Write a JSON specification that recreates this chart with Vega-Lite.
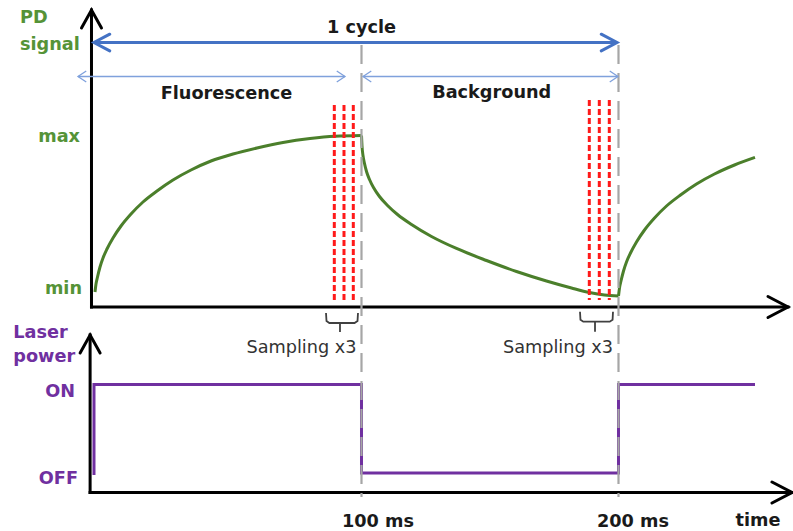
{
  "$schema": "https://vega.github.io/schema/vega-lite/v6.json",
  "width": 793,
  "height": 531,
  "padding": 0,
  "autosize": {"type": "none"},
  "background": "white",
  "config": {"view": {"stroke": null}},
  "datasets": {
    "axes": [
      {"t": -5.06, "v": -0.0958, "t2": -5.06, "v2": 1.802},
      {"t": -5.06, "v": -0.0958, "t2": 265.95, "v2": -0.0958},
      {"t": -5.6, "v": -1.2812, "t2": -5.6, "v2": -0.2748},
      {"t": -5.6, "v": -1.2812, "t2": 267.51, "v2": -1.2812}
    ],
    "arrowRight": [{"t": 265.95, "v": -0.0958}, {"t": 267.51, "v": -1.2812}],
    "arrowUp": [{"t": -5.06, "v": 1.802}, {"t": -5.6, "v": -0.2748}],
    "curve": [
      {"seg": 1, "i": 0, "t": -3.70, "v": 0},
      {"seg": 1, "i": 1, "t": -3.31, "v": 0.0511},
      {"seg": 1, "i": 2, "t": -2.72, "v": 0.0958},
      {"seg": 1, "i": 3, "t": -1.75, "v": 0.1597},
      {"seg": 1, "i": 4, "t": -0.58, "v": 0.2173},
      {"seg": 1, "i": 5, "t": 0.97, "v": 0.2748},
      {"seg": 1, "i": 6, "t": 3.31, "v": 0.3450},
      {"seg": 1, "i": 7, "t": 6.42, "v": 0.4217},
      {"seg": 1, "i": 8, "t": 10.31, "v": 0.4984},
      {"seg": 1, "i": 9, "t": 14.98, "v": 0.5751},
      {"seg": 1, "i": 10, "t": 20.43, "v": 0.6454},
      {"seg": 1, "i": 11, "t": 26.65, "v": 0.7157},
      {"seg": 1, "i": 12, "t": 33.66, "v": 0.7796},
      {"seg": 1, "i": 13, "t": 41.44, "v": 0.8371},
      {"seg": 1, "i": 14, "t": 50.00, "v": 0.8818},
      {"seg": 1, "i": 15, "t": 59.34, "v": 0.9201},
      {"seg": 1, "i": 16, "t": 69.46, "v": 0.9553},
      {"seg": 1, "i": 17, "t": 79.96, "v": 0.9808},
      {"seg": 1, "i": 18, "t": 89.69, "v": 0.9955},
      {"seg": 1, "i": 19, "t": 100, "v": 1.0},
      {"seg": 2, "i": 0, "t": 100, "v": 1.0},
      {"seg": 2, "i": 1, "t": 100.19, "v": 0.9361},
      {"seg": 2, "i": 2, "t": 100.58, "v": 0.8722},
      {"seg": 2, "i": 3, "t": 101.17, "v": 0.8211},
      {"seg": 2, "i": 4, "t": 101.95, "v": 0.7700},
      {"seg": 2, "i": 5, "t": 103.11, "v": 0.7188},
      {"seg": 2, "i": 6, "t": 104.67, "v": 0.6677},
      {"seg": 2, "i": 7, "t": 107.00, "v": 0.6102},
      {"seg": 2, "i": 8, "t": 110.12, "v": 0.5527},
      {"seg": 2, "i": 9, "t": 114.01, "v": 0.4952},
      {"seg": 2, "i": 10, "t": 119.46, "v": 0.4313},
      {"seg": 2, "i": 11, "t": 127.24, "v": 0.3546},
      {"seg": 2, "i": 12, "t": 136.96, "v": 0.2780},
      {"seg": 2, "i": 13, "t": 148.64, "v": 0.2013},
      {"seg": 2, "i": 14, "t": 160.31, "v": 0.1310},
      {"seg": 2, "i": 15, "t": 171.98, "v": 0.0703},
      {"seg": 2, "i": 16, "t": 181.71, "v": 0.0256},
      {"seg": 2, "i": 17, "t": 188.72, "v": -0.0032},
      {"seg": 2, "i": 18, "t": 194.55, "v": -0.0192},
      {"seg": 2, "i": 19, "t": 200, "v": -0.0256},
      {"seg": 3, "i": 0, "t": 200, "v": -0.0256},
      {"seg": 3, "i": 1, "t": 200.39, "v": 0.0256},
      {"seg": 3, "i": 2, "t": 200.97, "v": 0.0703},
      {"seg": 3, "i": 3, "t": 201.95, "v": 0.1342},
      {"seg": 3, "i": 4, "t": 203.11, "v": 0.1917},
      {"seg": 3, "i": 5, "t": 204.67, "v": 0.2492},
      {"seg": 3, "i": 6, "t": 207.00, "v": 0.3195},
      {"seg": 3, "i": 7, "t": 210.12, "v": 0.3962},
      {"seg": 3, "i": 8, "t": 214.01, "v": 0.4728},
      {"seg": 3, "i": 9, "t": 218.68, "v": 0.5495},
      {"seg": 3, "i": 10, "t": 224.12, "v": 0.6198},
      {"seg": 3, "i": 11, "t": 230.35, "v": 0.6901},
      {"seg": 3, "i": 12, "t": 237.35, "v": 0.7540},
      {"seg": 3, "i": 13, "t": 245.14, "v": 0.8115},
      {"seg": 3, "i": 14, "t": 253.11, "v": 0.8600}
    ],
    "laser": [
      {"i": 0, "t": -4.09, "v": -1.1693},
      {"i": 1, "t": -4.09, "v": -0.5911},
      {"i": 2, "t": 100, "v": -0.5911},
      {"i": 3, "t": 100, "v": -1.1565},
      {"i": 4, "t": 200, "v": -1.1565},
      {"i": 5, "t": 200, "v": -0.5911},
      {"i": 6, "t": 253.11, "v": -0.5911}
    ],
    "grayLines": [
      {"t": 100, "v": 1.5783, "v2": -1.3099},
      {"t": 200, "v": 1.5783, "v2": -1.3099}
    ],
    "redLines": [
      {"t": 89.42, "v": 1.1949, "v2": -0.0703},
      {"t": 93.19, "v": 1.1949, "v2": -0.0703},
      {"t": 96.81, "v": 1.1949, "v2": -0.0703},
      {"t": 188.64, "v": 1.2268, "v2": -0.0511},
      {"t": 192.53, "v": 1.2268, "v2": -0.0511},
      {"t": 196.42, "v": 1.2268, "v2": -0.0511}
    ],
    "cycle": [{"t": -4.09, "t2": 199.42, "v": 1.5942}],
    "cycleRight": [{"t": 199.42, "v": 1.5942}],
    "cycleLeft": [{"t": -4.09, "v": 1.5942}],
    "phases": [
      {"t": -10.31, "t2": 93.58, "v": 1.377},
      {"t": 100.6, "t2": 199.8, "v": 1.377}
    ],
    "phaseRight": [{"t": 93.58, "v": 1.377}, {"t": 199.8, "v": 1.377}],
    "phaseLeft": [{"t": -10.31, "v": 1.377}, {"t": 100.6, "v": 1.377}],
    "braces": [
      {"g": 1, "i": 0, "t": 86.19, "v": -0.1342},
      {"g": 1, "i": 1, "t": 86.38, "v": -0.1853},
      {"g": 1, "i": 2, "t": 87.5, "v": -0.1981},
      {"g": 1, "i": 3, "t": 91.63, "v": -0.1981},
      {"g": 1, "i": 4, "t": 91.63, "v": -0.2556},
      {"g": 1, "i": 5, "t": 91.63, "v": -0.1981},
      {"g": 1, "i": 6, "t": 97.3, "v": -0.1981},
      {"g": 1, "i": 7, "t": 98.45, "v": -0.1853},
      {"g": 1, "i": 8, "t": 98.64, "v": -0.1342},
      {"g": 2, "i": 0, "t": 185.02, "v": -0.1259},
      {"g": 2, "i": 1, "t": 185.2, "v": -0.1770},
      {"g": 2, "i": 2, "t": 186.3, "v": -0.1898},
      {"g": 2, "i": 3, "t": 190.86, "v": -0.1898},
      {"g": 2, "i": 4, "t": 190.86, "v": -0.2537},
      {"g": 2, "i": 5, "t": 190.86, "v": -0.1898},
      {"g": 2, "i": 6, "t": 196.6, "v": -0.1898},
      {"g": 2, "i": 7, "t": 197.7, "v": -0.1770},
      {"g": 2, "i": 8, "t": 197.86, "v": -0.1259}
    ],
    "greenLeft": [
      {"t": -32.88, "v": 1.7157, "label": "PD"},
      {"t": -32.88, "v": 1.5463, "label": "signal"}
    ],
    "greenRight": [
      {"t": -9.53, "v": 0.9585, "label": "max"},
      {"t": -8.75, "v": -0.0128, "label": "min"}
    ],
    "purpleLeft": [
      {"t": -35.49, "v": -0.2939, "label": "Laser"},
      {"t": -35.49, "v": -0.4454, "label": "power"}
    ],
    "purpleRight": [
      {"t": -11.48, "v": -0.669, "label": "ON"},
      {"t": -10.31, "v": -1.2268, "label": "OFF"}
    ],
    "blackCenter": [
      {"t": 100.0, "v": 1.653, "label": "1 cycle"},
      {"t": 47.47, "v": 1.2332, "label": "Fluorescence"},
      {"t": 150.66, "v": 1.2377, "label": "Background"},
      {"t": 106.42, "v": -1.4997, "label": "100 ms"},
      {"t": 205.64, "v": -1.4997, "label": "200 ms"},
      {"t": 254.28, "v": -1.4952, "label": "time"}
    ],
    "sampling": [
      {"t": 76.65, "v": -0.3917, "label": "Sampling x3"},
      {"t": 176.46, "v": -0.3879, "label": "Sampling x3"}
    ]
  },
  "layer": [
    {
      "data": {"name": "axes"},
      "mark": {"type": "rule", "color": "black", "strokeWidth": 3, "strokeCap": "square"},
      "encoding": {
        "x": {"field": "t", "type": "quantitative", "axis": null, "scale": {"domain": [-40.66, 267.9], "nice": false, "zero": false}},
        "y": {"field": "v", "type": "quantitative", "axis": null, "scale": {"domain": [-1.5272, 1.8658], "nice": false, "zero": false}},
        "x2": {"field": "t2"},
        "y2": {"field": "v2"}
      }
    },
    {
      "data": {"name": "arrowRight"},
      "mark": {"type": "point", "shape": "M-2,-1.05L0,0L-2,1.05", "size": 400, "filled": false, "color": "black", "strokeWidth": 3, "opacity": 1, "strokeJoin": "miter", "strokeCap": "round"},
      "encoding": {
        "x": {"field": "t", "type": "quantitative"},
        "y": {"field": "v", "type": "quantitative"}
      }
    },
    {
      "data": {"name": "arrowUp"},
      "mark": {"type": "point", "shape": "M-1,1.8L0,0L1,1.8", "size": 400, "filled": false, "color": "black", "strokeWidth": 3, "opacity": 1, "strokeJoin": "miter", "strokeCap": "round"},
      "encoding": {
        "x": {"field": "t", "type": "quantitative"},
        "y": {"field": "v", "type": "quantitative"}
      }
    },
    {
      "data": {"name": "curve"},
      "mark": {"type": "line", "color": "#4B7F2B", "strokeWidth": 3, "interpolate": "monotone", "strokeJoin": "round"},
      "encoding": {
        "x": {"field": "t", "type": "quantitative"},
        "y": {"field": "v", "type": "quantitative"},
        "detail": {"field": "seg", "type": "nominal"},
        "order": {"field": "i", "type": "quantitative"}
      }
    },
    {
      "data": {"name": "laser"},
      "mark": {"type": "line", "color": "#7030A0", "strokeWidth": 3},
      "encoding": {
        "x": {"field": "t", "type": "quantitative"},
        "y": {"field": "v", "type": "quantitative"},
        "order": {"field": "i", "type": "quantitative"}
      }
    },
    {
      "data": {"name": "grayLines"},
      "mark": {"type": "rule", "color": "#A6A6A6", "strokeWidth": 2.2, "strokeDash": [19, 9]},
      "encoding": {
        "x": {"field": "t", "type": "quantitative"},
        "y": {"field": "v", "type": "quantitative"},
        "y2": {"field": "v2"}
      }
    },
    {
      "data": {"name": "redLines"},
      "mark": {"type": "rule", "color": "#FF1A1A", "strokeWidth": 3, "strokeDash": [6, 3]},
      "encoding": {
        "x": {"field": "t", "type": "quantitative"},
        "y": {"field": "v", "type": "quantitative"},
        "y2": {"field": "v2"}
      }
    },
    {
      "data": {"name": "cycle"},
      "mark": {"type": "rule", "color": "#4472C4", "strokeWidth": 3},
      "encoding": {
        "x": {"field": "t", "type": "quantitative"},
        "x2": {"field": "t2"},
        "y": {"field": "v", "type": "quantitative"}
      }
    },
    {
      "data": {"name": "cycleRight"},
      "mark": {"type": "point", "shape": "M-1.9,-1L0,0L-1.9,1", "size": 276, "filled": false, "color": "#4472C4", "strokeWidth": 3, "opacity": 1, "strokeCap": "round"},
      "encoding": {
        "x": {"field": "t", "type": "quantitative"},
        "y": {"field": "v", "type": "quantitative"}
      }
    },
    {
      "data": {"name": "cycleLeft"},
      "mark": {"type": "point", "shape": "M1.9,-1L0,0L1.9,1", "size": 276, "filled": false, "color": "#4472C4", "strokeWidth": 3, "opacity": 1, "strokeCap": "round"},
      "encoding": {
        "x": {"field": "t", "type": "quantitative"},
        "y": {"field": "v", "type": "quantitative"}
      }
    },
    {
      "data": {"name": "phases"},
      "mark": {"type": "rule", "color": "#7FA1DC", "strokeWidth": 1.3},
      "encoding": {
        "x": {"field": "t", "type": "quantitative"},
        "x2": {"field": "t2"},
        "y": {"field": "v", "type": "quantitative"}
      }
    },
    {
      "data": {"name": "phaseRight"},
      "mark": {"type": "point", "shape": "M-1.5,-1L0,0L-1.5,1", "size": 121, "filled": false, "color": "#7FA1DC", "strokeWidth": 1.3, "opacity": 1},
      "encoding": {
        "x": {"field": "t", "type": "quantitative"},
        "y": {"field": "v", "type": "quantitative"}
      }
    },
    {
      "data": {"name": "phaseLeft"},
      "mark": {"type": "point", "shape": "M1.5,-1L0,0L1.5,1", "size": 121, "filled": false, "color": "#7FA1DC", "strokeWidth": 1.3, "opacity": 1},
      "encoding": {
        "x": {"field": "t", "type": "quantitative"},
        "y": {"field": "v", "type": "quantitative"}
      }
    },
    {
      "data": {"name": "braces"},
      "mark": {"type": "line", "color": "#404040", "strokeWidth": 1.8},
      "encoding": {
        "x": {"field": "t", "type": "quantitative"},
        "y": {"field": "v", "type": "quantitative"},
        "detail": {"field": "g", "type": "nominal"},
        "order": {"field": "i", "type": "quantitative"}
      }
    },
    {
      "data": {"name": "greenLeft"},
      "mark": {"type": "text", "align": "left", "baseline": "alphabetic", "font": "DejaVu Sans", "fontWeight": "bold", "fontSize": 17.7, "color": "#559337"},
      "encoding": {
        "x": {"field": "t", "type": "quantitative"},
        "y": {"field": "v", "type": "quantitative"},
        "text": {"field": "label"}
      }
    },
    {
      "data": {"name": "greenRight"},
      "mark": {"type": "text", "align": "right", "baseline": "alphabetic", "font": "DejaVu Sans", "fontWeight": "bold", "fontSize": 17.7, "color": "#559337"},
      "encoding": {
        "x": {"field": "t", "type": "quantitative"},
        "y": {"field": "v", "type": "quantitative"},
        "text": {"field": "label"}
      }
    },
    {
      "data": {"name": "purpleLeft"},
      "mark": {"type": "text", "align": "left", "baseline": "alphabetic", "font": "DejaVu Sans", "fontWeight": "bold", "fontSize": 17.7, "color": "#7030A0"},
      "encoding": {
        "x": {"field": "t", "type": "quantitative"},
        "y": {"field": "v", "type": "quantitative"},
        "text": {"field": "label"}
      }
    },
    {
      "data": {"name": "purpleRight"},
      "mark": {"type": "text", "align": "right", "baseline": "alphabetic", "font": "DejaVu Sans", "fontWeight": "bold", "fontSize": 17.7, "color": "#7030A0"},
      "encoding": {
        "x": {"field": "t", "type": "quantitative"},
        "y": {"field": "v", "type": "quantitative"},
        "text": {"field": "label"}
      }
    },
    {
      "data": {"name": "blackCenter"},
      "mark": {"type": "text", "align": "center", "baseline": "alphabetic", "font": "DejaVu Sans", "fontWeight": "bold", "fontSize": 17.7, "color": "#1a1a1a"},
      "encoding": {
        "x": {"field": "t", "type": "quantitative"},
        "y": {"field": "v", "type": "quantitative"},
        "text": {"field": "label"}
      }
    },
    {
      "data": {"name": "sampling"},
      "mark": {"type": "text", "align": "center", "baseline": "alphabetic", "font": "DejaVu Sans", "fontSize": 17.7, "color": "#333333"},
      "encoding": {
        "x": {"field": "t", "type": "quantitative"},
        "y": {"field": "v", "type": "quantitative"},
        "text": {"field": "label"}
      }
    }
  ]
}
